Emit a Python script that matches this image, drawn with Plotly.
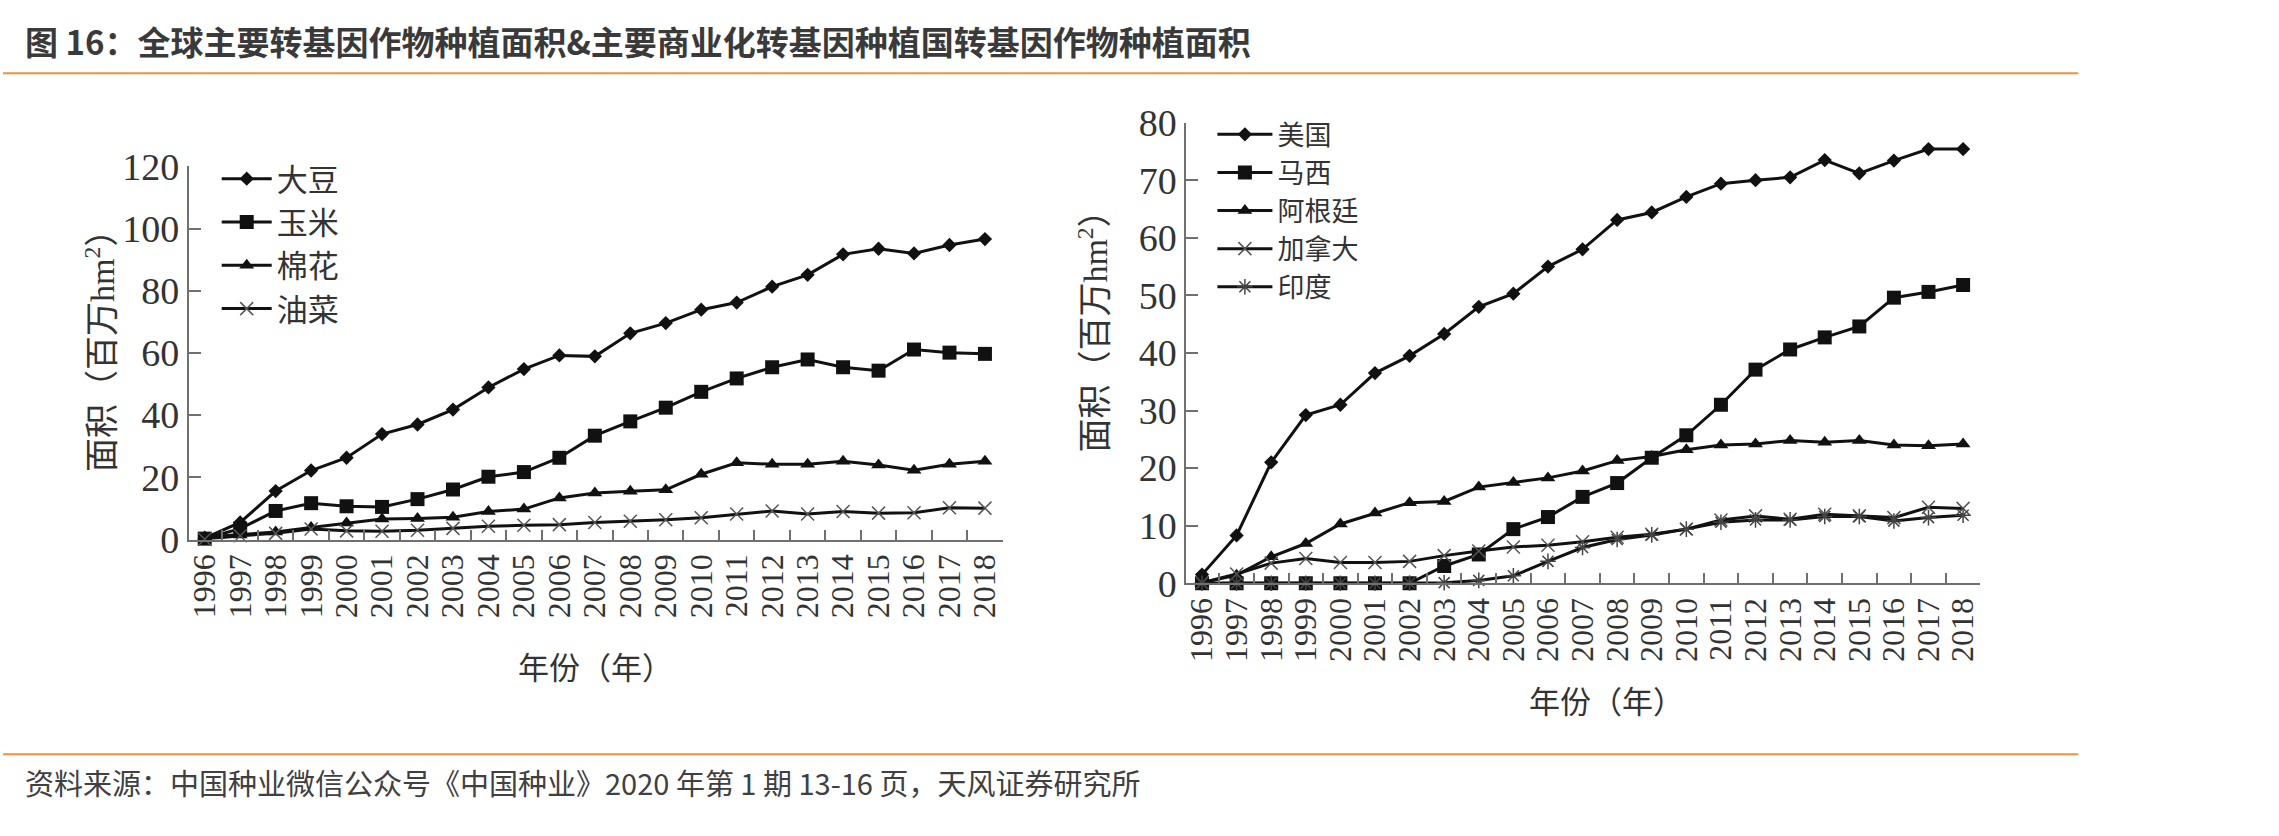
import plotly.graph_objects as go

W, H = 2279, 836

years = [str(y) for y in range(1996, 2019)]

# Left chart: global GM crop area (million hm2)
soybean = [0.5, 5.5, 15.6, 22.2, 26.3, 33.9, 37.0, 41.8, 48.9, 54.8, 59.2, 58.9,
           66.3, 69.6, 73.9, 76.2, 81.3, 85.1, 91.7, 93.5, 92.0, 94.7, 96.6]
corn = [0.3, 3.5, 9.2, 11.7, 10.7, 10.5, 13.0, 16.1, 20.2, 21.7, 26.3, 33.4,
        38.0, 42.4, 47.5, 51.8, 55.4, 57.9, 55.4, 54.3, 61.1, 60.1, 59.7]
cotton = [0.8, 1.5, 2.4, 3.9, 5.3, 6.6, 6.8, 7.2, 9.0, 9.8, 13.4, 15.0,
          15.5, 16.0, 21.0, 24.7, 24.2, 24.2, 25.2, 24.0, 22.3, 24.2, 25.2]
canola = [0.1, 1.2, 2.0, 3.4, 2.8, 2.7, 3.0, 3.6, 4.3, 4.6, 4.8, 5.5,
          5.9, 6.4, 7.0, 8.2, 9.2, 8.2, 9.0, 8.5, 8.6, 10.2, 10.1]

# Right chart: main commercial GM planting countries (million hm2)
usa = [1.5, 8.3, 21.0, 29.2, 31.0, 36.5, 39.5, 43.3, 48.0, 50.3, 55.0, 58.0,
       63.1, 64.4, 67.1, 69.4, 70.0, 70.5, 73.5, 71.2, 73.4, 75.4, 75.4]
brazil = [0.0, 0.0, 0.0, 0.0, 0.0, 0.0, 0.0, 3.0, 5.0, 9.4, 11.5, 15.0,
          17.4, 21.8, 25.7, 31.0, 37.1, 40.6, 42.7, 44.6, 49.6, 50.6, 51.8]
argentina = [0.1, 1.4, 4.6, 6.9, 10.3, 12.2, 14.0, 14.2, 16.7, 17.5, 18.3, 19.5,
             21.3, 22.0, 23.2, 24.0, 24.2, 24.8, 24.5, 24.8, 24.0, 23.9, 24.2]
canada = [0.1, 1.6, 3.5, 4.3, 3.6, 3.6, 3.8, 4.8, 5.6, 6.3, 6.6, 7.2,
          8.0, 8.5, 9.4, 11.0, 11.7, 11.1, 12.0, 11.7, 11.4, 13.2, 13.0]
india = [0.0, 0.0, 0.0, 0.0, 0.0, 0.0, 0.05, 0.1, 0.5, 1.3, 3.8, 6.2,
         7.6, 8.4, 9.4, 10.6, 11.0, 11.0, 11.6, 11.6, 10.8, 11.4, 11.8]

left_names = ["大豆", "玉米", "棉花", "油菜"]
right_names = ["美国", "马西", "阿根廷", "加拿大", "印度"]

title_text = "图 16：全球主要转基因作物种植面积&主要商业化转基因种植国转基因作物种植面积"
source_text = "资料来源：中国种业微信公众号《中国种业》2020 年第 1 期 13-16 页，天风证券研究所"
ytitle = "面积（百万hm<sup>2</sup>）"
xtitle = "年份（年）"

FONT = "Liberation Serif, Noto Sans CJK SC, serif"
CJK = "Noto Sans CJK SC"

def px(x):
    return x / W

def py(y):
    return 1 - y / H

styles = [
    dict(symbol="diamond", size=11, color="#111", line=dict(width=0)),
    dict(symbol="square", size=14, color="#111", line=dict(width=0)),
    dict(symbol="triangle-up", size=13, color="#111", line=dict(width=0)),
    dict(symbol="x-thin", size=13, color="#555", line=dict(width=1.5, color="#555")),
    dict(symbol="asterisk", size=13, color="#444", line=dict(width=1.5, color="#444")),
]

fig = go.Figure()

left_series = [soybean, corn, cotton, canola]
for i, (name, vals) in enumerate(zip(left_names, left_series)):
    fig.add_trace(go.Scatter(
        x=years, y=vals, name=name, mode="lines+markers",
        line=dict(color="#111", width=3), marker=styles[i],
        xaxis="x", yaxis="y", legend="legend", cliponaxis=False,
    ))

right_series = [usa, brazil, argentina, canada, india]
for i, (name, vals) in enumerate(zip(right_names, right_series)):
    fig.add_trace(go.Scatter(
        x=years, y=vals, name=name, mode="lines+markers",
        line=dict(color="#111", width=3), marker=styles[i],
        xaxis="x2", yaxis="y2", legend="legend2", cliponaxis=False,
    ))

axis_common = dict(
    showgrid=False, zeroline=False, showline=True, linecolor="#707070", linewidth=2,
    ticks="inside", tickcolor="#707070", tickwidth=1.5,
    tickfont=dict(family=FONT, size=38, color="#333"),
)

xaxis_common = dict(axis_common, type="category", tickson="boundaries", ticklen=10,
                    tickmode="linear", tick0=0, dtick=1,
                    tickangle=-90, range=[-0.45, 22.5],
                    tickfont=dict(family=FONT, size=32, color="#333"))

fig.update_layout(
    width=W, height=H,
    margin=dict(l=0, r=0, t=0, b=0),
    paper_bgcolor="white", plot_bgcolor="white",
    showlegend=True,
    xaxis=dict(xaxis_common, domain=[px(186), px(1001)], anchor="y"),
    yaxis=dict(axis_common, domain=[py(546), py(153)], range=[0, 120],
               tickvals=[0, 20, 40, 60, 80, 100, 120], ticklen=12, anchor="x"),
    xaxis2=dict(xaxis_common, domain=[px(1185), px(1980)], anchor="y2"),
    yaxis2=dict(axis_common, domain=[py(592), py(107)], range=[0, 80],
                tickvals=[0, 10, 20, 30, 40, 50, 60, 70, 80], ticklen=12, anchor="x2"),
    legend=dict(x=px(214), y=py(138), xanchor="left", yanchor="top",
                bgcolor="rgba(0,0,0,0)", font=dict(family=CJK, size=31, color="#333"),
                tracegroupgap=0, itemwidth=50),
    legend2=dict(x=px(1211), y=py(94), xanchor="left", yanchor="top",
                 bgcolor="rgba(0,0,0,0)", font=dict(family=CJK, size=27, color="#333"),
                 tracegroupgap=0, itemwidth=55),
)

annotations = [
    dict(text="<b>" + title_text + "</b>", x=px(20), y=py(21), xref="paper", yref="paper",
         xanchor="left", yanchor="middle", showarrow=False,
         font=dict(family=CJK, size=33, color="#3a3a3a")),
    dict(text=source_text, x=px(20), y=py(801), xref="paper", yref="paper",
         xanchor="left", yanchor="middle", showarrow=False,
         font=dict(family=CJK, size=29, color="#404040")),
    dict(text=ytitle, x=px(97), y=py(338), xref="paper", yref="paper",
         xanchor="center", yanchor="middle", showarrow=False, textangle=-90,
         font=dict(family=FONT, size=34, color="#333")),
    dict(text=ytitle, x=px(1091), y=py(318), xref="paper", yref="paper",
         xanchor="center", yanchor="middle", showarrow=False, textangle=-90,
         font=dict(family=FONT, size=34, color="#333")),
    dict(text=xtitle, x=px(593), y=py(679), xref="paper", yref="paper",
         xanchor="center", yanchor="middle", showarrow=False,
         font=dict(family=CJK, size=31, color="#333")),
    dict(text=xtitle, x=px(1606), y=py(714), xref="paper", yref="paper",
         xanchor="center", yanchor="middle", showarrow=False,
         font=dict(family=CJK, size=31, color="#333")),
]
fig.update_layout(annotations=annotations)

shapes = [
    dict(type="line", xref="paper", yref="paper", x0=0, x1=px(2078), y0=py(55), y1=py(55),
         line=dict(color="#F0923C", width=2)),
    dict(type="line", xref="paper", yref="paper", x0=0, x1=px(2078), y0=py(772), y1=py(772),
         line=dict(color="#F0923C", width=2)),
]
fig.update_layout(shapes=shapes)

fig.write_html("out.html")
